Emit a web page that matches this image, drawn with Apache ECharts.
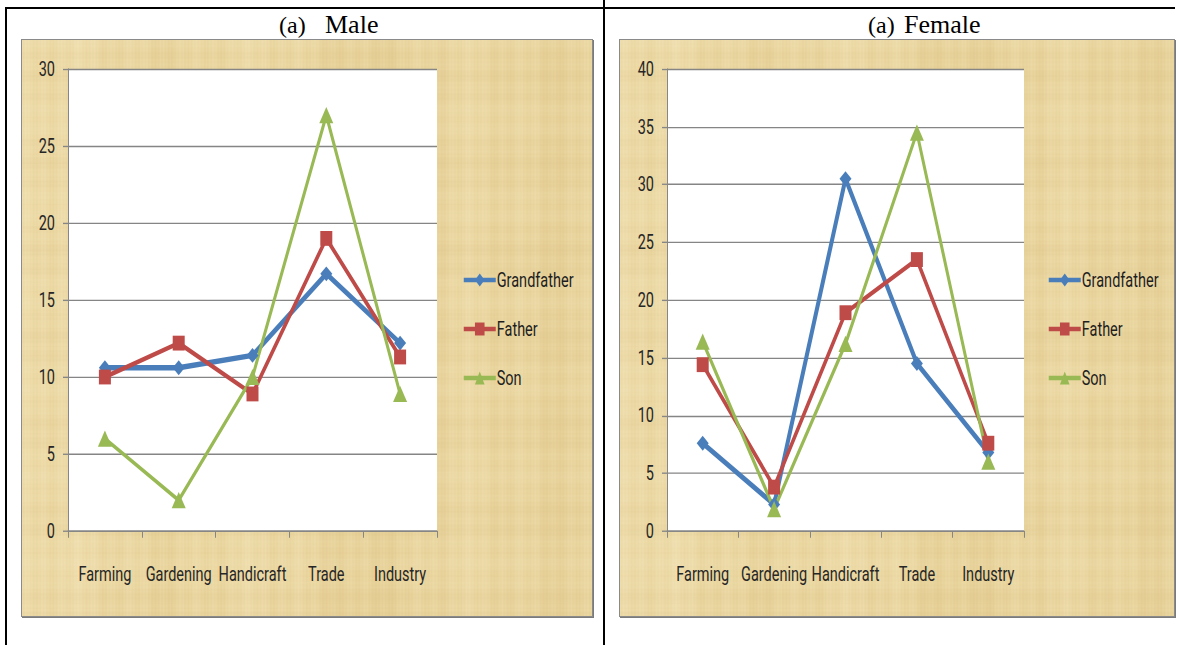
<!DOCTYPE html>
<html>
<head>
<meta charset="utf-8">
<script src="https://cdn.jsdelivr.net/npm/echarts@6/dist/echarts.min.js"></script>
<style>
  html, body { margin: 0; padding: 0; background: #fff; width: 1180px; height: 645px; overflow: hidden; }
  body { position: relative; }
  .rule { position: absolute; background: #000; }
  .frame { position: absolute; box-sizing: border-box; border: 1px solid #8a8a8a;
           box-shadow: 1px 1px 0 #7a7a7a; background-repeat: repeat; }
  .title { position: absolute; top: 12px; line-height: 26px; font-family: "Liberation Serif", "Times New Roman", serif;
           font-size: 26px; color: #000; white-space: pre; }
  #chart { position: absolute; left: 0; top: 0; width: 1180px; transform-origin: 0 0; }
</style>
</head>
<body>
<div class="rule" style="left:5px;top:7px;width:1170px;height:2px"></div>
<div class="rule" style="left:5px;top:7px;width:2px;height:638px"></div>
<div class="rule" style="left:603px;top:0;width:2px;height:645px"></div>
<div class="title" style="left:279px;font-size:24px">(a)</div>
<div class="title" style="left:325px">Male</div>
<div class="title" style="left:868px;font-size:24px">(a)</div>
<div class="title" style="left:904px">Female</div>
<div class="frame" id="frameL" style="left:21px;top:39px;width:572px;height:578px"></div>
<div class="frame" id="frameR" style="left:619px;top:39px;width:556px;height:578px"></div>
<div id="chart"></div>
<script>
// Occupation categories on the x axis
const categories = ['Farming', 'Gardening', 'Handicraft', 'Trade', 'Industry'];
const generations = ['Grandfather', 'Father', 'Son'];

// Male respondents (%)
const maleGrandfather = [10.6, 10.6, 11.4, 16.7, 12.2];
const maleFather      = [10.0, 12.2,  8.9, 19.0, 11.3];
const maleSon         = [ 6.0,  2.0, 10.0, 27.0,  8.9];

// Female respondents (%)
const femaleGrandfather = [7.6, 2.3, 30.5, 14.5, 6.8];
const femaleFather      = [14.4, 3.8, 18.9, 23.5, 7.6];
const femaleSon         = [16.4, 1.9, 16.2, 34.5, 6.0];

// Papyrus-like paper texture for the chart frames
function paperTexture(w, h) {
  const c = document.createElement('canvas');
  c.width = w; c.height = h;
  const g = c.getContext('2d');
  g.fillStyle = '#ead6a0';
  g.fillRect(0, 0, w, h);
  for (let x = 0; x < w; x++) {
    const v = Math.sin(x * 0.37) * 0.35 + Math.sin(x * 0.113 + 1.3) * 0.3 + Math.sin(x * 0.031 + 0.4) * 0.45
            + Math.sin(x * 1.91 + 2.1) * 0.25 + Math.sin(x * 0.0093 + 1.0) * 0.3;
    g.fillStyle = v > 0 ? 'rgba(255,248,220,' + (0.18 * v).toFixed(3) + ')'
                        : 'rgba(204,168,92,' + (-0.13 * v).toFixed(3) + ')';
    g.fillRect(x, 0, 1, h);
  }
  for (let y = 0; y < h; y++) {
    const v = Math.sin(y * 0.29 + 0.7) * 0.4 + Math.sin(y * 0.071 + 2.2) * 0.4 + Math.sin(y * 1.37) * 0.2;
    g.fillStyle = v > 0 ? 'rgba(255,248,222,' + (0.1 * v).toFixed(3) + ')'
                        : 'rgba(196,158,88,' + (-0.08 * v).toFixed(3) + ')';
    g.fillRect(0, y, w, 1);
  }
  return c.toDataURL();
}
const tex = 'url(' + paperTexture(600, 600) + ')';
document.getElementById('frameL').style.backgroundImage = tex;
document.getElementById('frameR').style.backgroundImage = tex;

// The chart is laid out in a vertically compressed space and stretched back
// with CSS, which gives the tall, narrow lettering and tall markers.
const K = 1.35;
const chartEl = document.getElementById('chart');
chartEl.style.height = (645 / K) + 'px';
chartEl.style.transform = 'scaleY(' + K + ')';
const Y = v => v / K;

const FONT = 'Roboto, "Liberation Sans", sans-serif';
const FS = 14.5;
const colors = { Grandfather: '#4a7ebb', Father: '#be4b48', Son: '#98b954' };
const styles = {
  Grandfather: { symbol: 'diamond',  size: [12, 11], width: 4 },
  Father:      { symbol: 'rect',     size: [12, 11], width: 3.4 },
  Son:         { symbol: 'triangle', size: [14, 12], width: 3 }
};

function makeSeries(name, data, idx) {
  const s = styles[name];
  return {
    name: name, type: 'line', data: data,
    xAxisIndex: idx, yAxisIndex: idx,
    symbol: s.symbol, symbolSize: s.size, showSymbol: true,
    lineStyle: { color: colors[name], width: s.width },
    itemStyle: { color: colors[name], borderWidth: 0 },
    emphasis: { disabled: true },
    animation: false
  };
}

function yAxis(idx, max) {
  return {
    type: 'value', gridIndex: idx, min: 0, max: max, interval: 5,
    axisLine: { show: true, lineStyle: { color: '#868686', width: 1 } },
    axisTick: { show: true, length: 5, lineStyle: { color: '#868686' } },
    splitLine: { show: true, lineStyle: { color: '#858585', width: 1 } },
    axisLabel: { fontFamily: FONT, fontSize: FS, color: '#262626', margin: 13 }
  };
}
function xAxis(idx) {
  return {
    type: 'category', gridIndex: idx, data: categories, boundaryGap: true,
    axisLine: { show: true, lineStyle: { color: '#868686', width: 1 } },
    axisTick: { show: true, length: 5, interval: 0, lineStyle: { color: '#868686' } },
    axisLabel: { fontFamily: FONT, fontSize: FS, color: '#262626', margin: Y(43) - FS / 2, interval: 0 }
  };
}
const LEG_H = 12;   // icon height
const LEG_ROW = 15; // rendered row height of one legend entry
function legend(left) {
  return {
    data: generations, orient: 'vertical', left: left, top: Y(280) - LEG_ROW / 2,
    padding: 0,
    itemWidth: 32, itemHeight: LEG_H, itemGap: Y(49) - LEG_ROW, selectedMode: false,
    lineStyle: { width: 3.5 },
    textStyle: { fontFamily: FONT, fontSize: FS, lineHeight: LEG_H, color: '#1e1e1e', padding: [0, 0, 0, -4] }
  };
}

const chart = echarts.init(chartEl, null, { renderer: 'svg' });
chart.setOption({
  animation: false,
  backgroundColor: 'transparent',
  grid: [
    { left: 68, top: Y(69), width: 369, height: Y(462), show: true, backgroundColor: '#fff', borderWidth: 0 },
    { left: 667, top: Y(69), width: 357, height: Y(462), show: true, backgroundColor: '#fff', borderWidth: 0 }
  ],
  xAxis: [xAxis(0), xAxis(1)],
  yAxis: [yAxis(0, 30), yAxis(1, 40)],
  legend: [legend(462), legend(1047)],
  series: [
    makeSeries('Grandfather', maleGrandfather, 0),
    makeSeries('Father', maleFather, 0),
    makeSeries('Son', maleSon, 0),
    makeSeries('Grandfather', femaleGrandfather, 1),
    makeSeries('Father', femaleFather, 1),
    makeSeries('Son', femaleSon, 1)
  ]
});
</script>
</body>
</html>
